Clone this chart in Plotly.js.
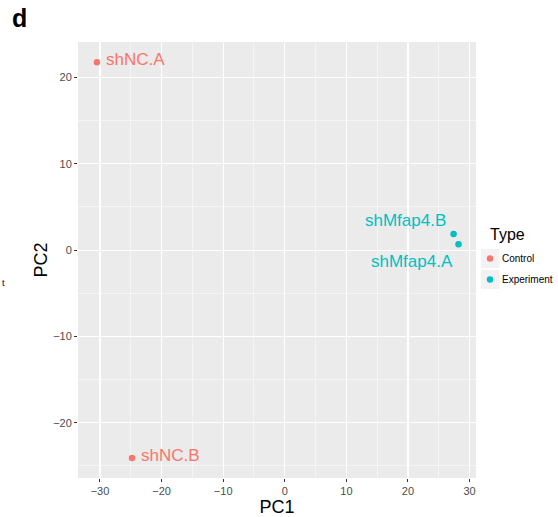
<!DOCTYPE html>
<html>
<head>
<meta charset="utf-8">
<script src="https://cdn.plot.ly/plotly-3.0.1.min.js"></script>
<style>html,body{margin:0;padding:0;background:#fff;}#chart{width:558px;height:517px;}</style>
</head>
<body>
<div id="chart"></div>
<script>
// Data
const sampleNames = ["shNC.A", "shNC.B", "shMfap4.B", "shMfap4.A"];
const sampleType = ["Control", "Control", "Experiment", "Experiment"];
const pc1 = [-30.5, -24.8, 27.4, 28.2];
const pc2 = [21.75, -24.07, 1.85, 0.66];
const typeNames = ["Control", "Experiment"];
const typeColors = ["#F8766D", "#00BFC4"];
const xTicks = [-30, -20, -10, 0, 10, 20, 30];
const yTicks = [-20, -10, 0, 10, 20];
const legendTitle = "Type";

// geometry
const W = 558, H = 517;
const M = {l: 78, r: 82, t: 42, b: 39};
const PW = W - M.l - M.r, PH = H - M.t - M.b;
const px = x => (x - M.l) / PW;          // pixel x -> paper
const py = y => (H - M.b - y) / PH;      // pixel y -> paper
const FONT = "Liberation Sans, Arial, Helvetica, sans-serif";

// label offsets (pixels) per sample
const labelStyle = {
  "shNC.A": {xanchor: "left", xshift: 7, yshift: 3},
  "shNC.B": {xanchor: "left", xshift: 7, yshift: 2},
  "shMfap4.B": {xanchor: "right", xshift: -6, yshift: 14},
  "shMfap4.A": {xanchor: "right", xshift: -4, yshift: -17}
};

const traces = typeNames.map((t, k) => {
  const idx = sampleType.map((s, i) => s === t ? i : -1).filter(i => i >= 0);
  return {
    type: "scatter", mode: "markers", name: t,
    x: idx.map(i => pc1[i]), y: idx.map(i => pc2[i]),
    marker: {color: typeColors[k], size: 6.5},
    hoverinfo: "skip", showlegend: false
  };
});

const annotations = sampleNames.map((n, i) => {
  const st = labelStyle[n];
  return {
    x: pc1[i], y: pc2[i], xref: "x", yref: "y", text: n, showarrow: false,
    xanchor: st.xanchor, yanchor: "middle", xshift: st.xshift, yshift: st.yshift,
    font: {family: FONT, size: 17, color: typeColors[typeNames.indexOf(sampleType[i])]}
  };
});
// panel letter and stray fragment
annotations.push({xref: "paper", yref: "paper", x: px(10), y: py(18), xanchor: "left", yanchor: "middle",
  text: "<b>d</b>", showarrow: false, font: {family: FONT, size: 25, color: "#000"}});
annotations.push({xref: "paper", yref: "paper", x: px(0), y: py(283), xanchor: "left", yanchor: "middle",
  text: "t", showarrow: false, font: {family: FONT, size: 9, color: "#000"}});

// manual legend (ggplot style)
const shapes = [];
annotations.push({xref: "paper", yref: "paper", x: px(488), y: py(235), xanchor: "left", yanchor: "middle",
  text: legendTitle, showarrow: false, font: {family: FONT, size: 16, color: "#000"}});
typeNames.forEach((t, k) => {
  const cy = 258.5 + k * 21;
  shapes.push({type: "rect", xref: "paper", yref: "paper", layer: "below",
    x0: px(481), x1: px(499.5), y0: py(cy - 9.5), y1: py(cy + 9.5),
    fillcolor: "#f2f2f2", line: {width: 0}});
  shapes.push({type: "circle", xref: "paper", yref: "paper", xsizemode: "pixel", ysizemode: "pixel",
    xanchor: px(490), yanchor: py(cy), x0: -3.2, x1: 3.2, y0: -3.2, y1: 3.2,
    fillcolor: typeColors[k], line: {width: 0}});
  annotations.push({xref: "paper", yref: "paper", x: px(500), y: py(cy), xanchor: "left", yanchor: "middle",
    text: t, showarrow: false, font: {family: FONT, size: 10, color: "#000"}});
});

const axisCommon = {
  showgrid: true, gridcolor: "#ffffff", gridwidth: 1.1,
  zeroline: false, showline: false,
  ticks: "outside", ticklen: 3, tickwidth: 1, tickcolor: "#333333",
  tickfont: {family: FONT, size: 11, color: "#4d4d4d"},
  fixedrange: true
};
const fmt = v => v < 0 ? "\u2212" + Math.abs(v) : String(v);

const layout = {
  width: W, height: H,
  margin: Object.assign({autoexpand: false}, M),
  paper_bgcolor: "#ffffff", plot_bgcolor: "#ebebeb",
  font: {family: FONT},
  xaxis: Object.assign({}, axisCommon, {
    range: [-33.57, 31.04], tickvals: xTicks, ticktext: xTicks.map(fmt),
    minor: {tickvals: [-25, -15, -5, 5, 15, 25], showgrid: true, gridcolor: "#ffffff", gridwidth: 0.5, ticks: ""},
    title: {text: "PC1", font: {family: FONT, size: 18, color: "#000"}, standoff: 0}
  }),
  yaxis: Object.assign({}, axisCommon, {
    range: [-26.4, 24.1], tickvals: yTicks, ticktext: yTicks.map(fmt),
    minor: {tickvals: [-25, -15, -5, 5, 15], showgrid: true, gridcolor: "#ffffff", gridwidth: 0.5, ticks: ""},
    title: {text: "PC2", font: {family: FONT, size: 18, color: "#000"}, standoff: 0}
  }),
  showlegend: false,
  annotations: annotations,
  shapes: shapes
};

Plotly.newPlot("chart", traces, layout, {displayModeBar: false, staticPlot: true});
</script>
</body>
</html>
